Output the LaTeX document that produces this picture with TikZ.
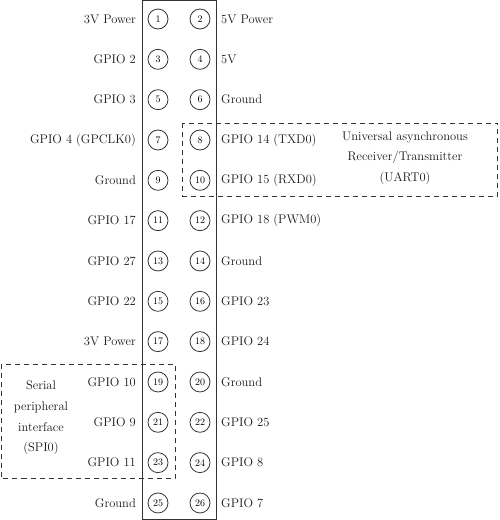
\documentclass[tikz,border=0pt]{standalone}
\usetikzlibrary{positioning}
\begin{document}
\begin{tikzpicture}[x=1pt,y=-1pt,
  pin/.style={circle,draw=black!80,line width=0.8pt,minimum size=20pt,inner sep=0pt,font=\fontsize{10}{11}\selectfont},
  lbl/.style={inner sep=0pt,font=\fontsize{12.5}{14}\selectfont,text=black!90},
  grp/.style={draw=black!80,line width=0.8pt,dash pattern=on 5pt off 4pt},
  grptext/.style={inner sep=0pt,align=center,font=\fontsize{12.5}{20.7}\selectfont,text=black!90}]
\useasboundingbox (0,0) rectangle (500,520);
\draw[line width=1.3pt,draw=black!80] (142.5,0) rectangle (216.5,519.5);
\foreach \l/\r [count=\i] in {3V Power/5V Power, GPIO 2/5V, GPIO 3/Ground, GPIO 4 (GPCLK0)/GPIO 14 (TXD0), Ground/GPIO 15 (RXD0), GPIO 17/GPIO 18 (PWM0), GPIO 27/Ground, GPIO 22/GPIO 23, 3V Power/GPIO 24, GPIO 10/Ground, GPIO 9/GPIO 25, GPIO 11/GPIO 8, Ground/GPIO 7}{
  \pgfmathtruncatemacro{\a}{2*\i-1}
  \pgfmathtruncatemacro{\b}{2*\i}
  \pgfmathsetmacro{\yy}{19+40.33*(\i-1)}
  \node[pin] (p\a) at (158,\yy) {\a};
  \node[pin] (p\b) at (200,\yy) {\b};
  \node[lbl,anchor=east] (l\a) at (136,\yy) {\l};
  \node[lbl,anchor=west] (l\b) at (221,\yy) {\r};
}
\draw[grp] (182.5,123) rectangle (497.5,196);
\node[grptext] (uart) at (405,158) {Universal asynchronous\\Receiver/Transmitter\\(UART0)};
\draw[grp] (1,364) rectangle (175,478.5);
\node[grptext] (spi) at (41,418) {Serial\\peripheral\\interface\\(SPI0)};
\end{tikzpicture}
\end{document}
